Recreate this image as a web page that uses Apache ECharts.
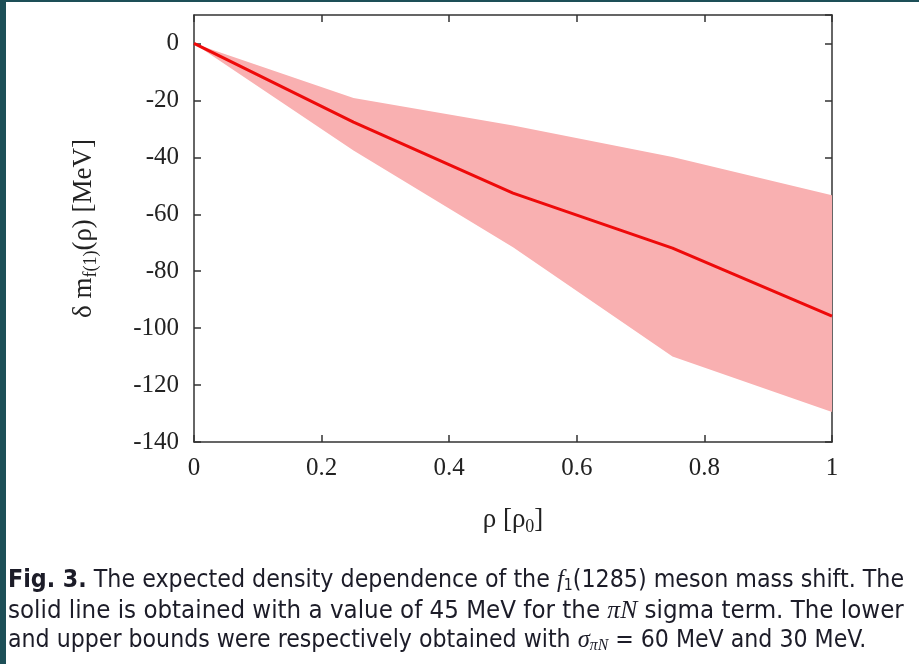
<!DOCTYPE html>
<html><head><meta charset="utf-8">
<script src="https://cdn.jsdelivr.net/npm/echarts@6/dist/echarts.min.js"></script>
<style>html,body{margin:0;padding:0;background:#fff}#c{width:919px;height:664px}</style>
</head><body><div id="c"></div>
<script>
const rho = [0, 0.25, 0.5, 0.75, 1.0];
const central = [0, -27.6, -52.6, -71.9, -95.8];
const upper = [0, -19.2, -28.8, -39.9, -53.3];
const lower = [0, -37.6, -71.6, -110.0, -129.5];
const xTicks = [0, 0.2, 0.4, 0.6, 0.8, 1];
const yTicks = [0, -20, -40, -60, -80, -100, -120, -140];

const chart = echarts.init(document.getElementById('c'));
const serif = '"Liberation Serif", "DejaVu Serif", serif';
const cap = '"DejaVu Sans Condensed", "DejaVu Sans", sans-serif';
const axColor = '#333';
const txt = '#1c1c28';
const baseAxis = {
  axisLine: {show: true, onZero: false, lineStyle: {color: axColor, width: 1.5}},
  axisTick: {show: true, inside: true, length: 7, lineStyle: {color: axColor, width: 1.5}},
  splitLine: {show: false}
};
const bandPts = rho.map((x, i) => [x, upper[i], lower[i]]);
const centralPts = rho.map((x, i) => [x, central[i]]);

function capStyle(size) {
  return {
    fontFamily: cap, fontSize: size, fill: txt,
    rich: {
      b: {fontWeight: 'bold', fontFamily: cap, fontSize: size, fill: txt},
      i: {fontStyle: 'italic', fontFamily: serif, fontSize: size, fill: txt},
      s: {fontFamily: cap, fontSize: size * 0.64, fill: txt, padding: [10, 0, 0, 0]},
      si: {fontStyle: 'italic', fontFamily: serif, fontSize: size * 0.64, fill: txt, padding: [10, 0, 0, 0]}
    }
  };
}

chart.setOption({
  animation: false,
  grid: {left: 194, top: 15, width: 638, height: 427, containLabel: false},
  xAxis: [
    Object.assign({}, baseAxis, {type: 'value', min: 0, max: 1, interval: 0.2, position: 'bottom',
      axisLabel: {margin: 14, fontFamily: serif, fontSize: 25, color: '#222', formatter: v => String(+v.toFixed(1))},
      name: '{a|ρ [ρ}{s|0}{a|]}', nameLocation: 'middle', nameGap: 62,
      nameTextStyle: {rich: {a: {fontFamily: serif, fontSize: 27, color: '#222'}, s: {fontFamily: serif, fontSize: 18, color: '#222', padding: [14, 0, 0, 0]}}}}),
    Object.assign({}, baseAxis, {type: 'value', min: 0, max: 1, interval: 0.2, position: 'top', axisLabel: {show: false}})
  ],
  yAxis: [
    Object.assign({}, baseAxis, {type: 'value', min: -140, max: 10, interval: 20, position: 'left',
      axisLabel: {margin: 15, fontFamily: serif, fontSize: 25, color: '#222', showMaxLabel: false},
      name: '{a|δ m}{s|f(1)}{a|(ρ) [MeV]}', nameLocation: 'middle', nameGap: 94, nameRotate: 90,
      nameTextStyle: {rich: {a: {fontFamily: serif, fontSize: 27, color: '#222'}, s: {fontFamily: serif, fontSize: 18, color: '#222', padding: [14, 0, 0, 0]}}}}),
    Object.assign({}, baseAxis, {type: 'value', min: -140, max: 10, interval: 20, position: 'right', axisLabel: {show: false}})
  ],
  series: [
    {type: 'custom', data: bandPts, silent: true, z: 1,
      renderItem: function (params, api) {
        if (params.dataIndex !== 0) return null;
        const top = bandPts.map(p => api.coord([p[0], p[1]]));
        const bot = bandPts.map(p => api.coord([p[0], p[2]])).reverse();
        return {type: 'polygon', shape: {points: top.concat(bot)}, style: {fill: '#f9b0b1'}};
      },
      encode: {x: 0, y: [1, 2]}},
    {type: 'line', data: centralPts, symbol: 'none', lineStyle: {color: '#ee0a0a', width: 3}, z: 5}
  ],
  graphic: [
    {type: 'rect', left: 0, top: 0, shape: {width: 6, height: 664}, style: {fill: '#1d4f57'}},
    {type: 'rect', left: 0, top: 0, shape: {width: 919, height: 2}, style: {fill: '#1d4f57'}},
    {type: 'text', left: 8, top: 568, style: Object.assign(capStyle(24.7), {
      text: '{b|Fig. 3.} The expected density dependence of the {i|f}{s|1}(1285) meson mass shift. The'})},
    {type: 'text', left: 8, top: 598, style: Object.assign(capStyle(25.6), {
      text: 'solid line is obtained with a value of 45 MeV for the {i|πN} sigma term. The lower'})},
    {type: 'text', left: 8, top: 628, style: Object.assign(capStyle(24.6), {
      text: 'and upper bounds were respectively obtained with {i|σ}{si|πN} = 60 MeV and 30 MeV.'})}
  ]
});
</script></body></html>
